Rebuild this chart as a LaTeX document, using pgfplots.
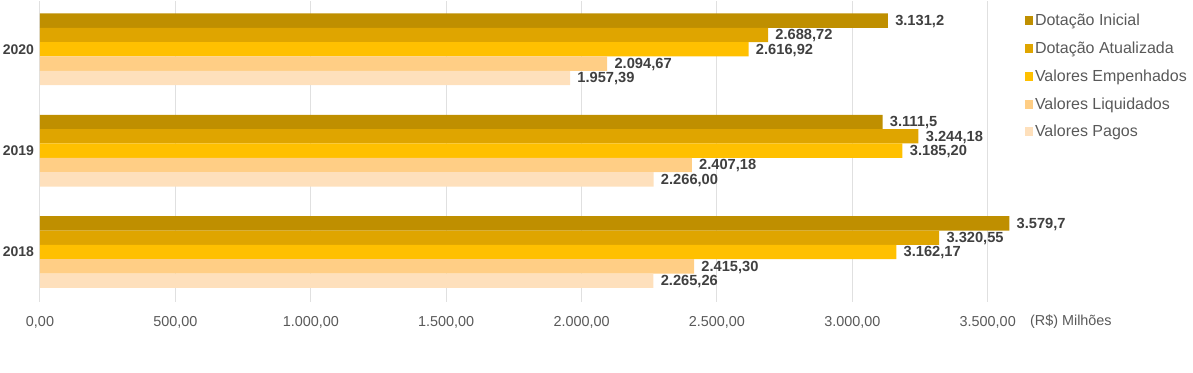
\documentclass[border=0pt]{standalone}
\usepackage{pgfplots}
\pgfplotsset{compat=1.18}
\usepackage{fontspec}
\setmainfont{Liberation Sans}
\definecolor{cIni}{HTML}{BF8F00}
\definecolor{cAtu}{HTML}{DFA500}
\definecolor{cEmp}{HTML}{FFC000}
\definecolor{cLiq}{HTML}{FFCE85}
\definecolor{cPag}{HTML}{FEE0BC}
\definecolor{txt}{HTML}{404040}
\definecolor{tickc}{HTML}{595959}
\definecolor{gridc}{HTML}{E0E0E0}
\begin{document}
\begin{tikzpicture}
\useasboundingbox (-30pt,-52.5pt) rectangle (864.75pt,226.5pt);
\begin{axis}[
  at={(0,0)}, anchor=south west,
  scale only axis,
  width=710.8pt, height=225.75pt,
  xbar, bar width=0.1416,
  xmin=0, xmax=3500,
  ymin=-0.493, ymax=2.4766,
  clip=false,
  axis line style={draw=none},
  xmajorgrids=true, ymajorgrids=false,
  major grid style={draw=gridc, line width=0.75pt},
  xtick={0,500,1000,1500,2000,2500,3000,3500},
  xticklabels={{0,00},{500,00},{1.000,00},{1.500,00},{2.000,00},{2.500,00},{3.000,00},{3.500,00}},
  xtick pos=bottom, xtick align=outside,
  major tick length=0pt,
  ytick={0,1,2}, yticklabels={2018,2019,2020},
  ytick style={draw=none},
  xticklabel style={font=\fontsize{10.8}{12}\selectfont, text=tickc, yshift=-7pt},
  yticklabel style={font=\fontsize{10.5}{12}\selectfont\bfseries, text=txt, xshift=-1pt},
  point meta=explicit symbolic,
  nodes near coords,
  every node near coord/.append style={font=\fontsize{11}{12}\selectfont\bfseries, text=txt, anchor=west, xshift=2pt, yshift=-0.7pt},
  legend style={draw=none, fill=none, at={(axis description cs:1.0351,0.967)}, anchor=north west,
    font=\fontsize{12}{14}\selectfont, text=tickc, row sep=8.8pt,
    nodes={inner sep=0pt, text height=9pt, text depth=3pt},
    /tikz/every odd column/.append style={column sep=1.3pt}},
  legend cell align=left,
  legend image code/.code={\fill[#1] (0pt,-2.6pt) rectangle (6pt,4.1pt);},
]
\addplot[draw=none, fill=cIni, bar shift=0.2832] coordinates {(3579.7,0) [3.579,7] (3111.5,1) [3.111,5] (3131.2,2) [3.131,2]};
\addplot[draw=none, fill=cAtu, bar shift=0.1416] coordinates {(3320.55,0) [3.320,55] (3244.18,1) [3.244,18] (2688.72,2) [2.688,72]};
\addplot[draw=none, fill=cEmp, bar shift=0] coordinates {(3162.17,0) [3.162,17] (3185.20,1) [3.185,20] (2616.92,2) [2.616,92]};
\addplot[draw=none, fill=cLiq, bar shift=-0.1416] coordinates {(2415.30,0) [2.415,30] (2407.18,1) [2.407,18] (2094.67,2) [2.094,67]};
\addplot[draw=none, fill=cPag, bar shift=-0.2832] coordinates {(2265.26,0) [2.265,26] (2266.00,1) [2.266,00] (1957.39,2) [1.957,39]};
\legend{Dotação Inicial, Dotação Atualizada, Valores Empenhados, Valores Liquidados, Valores Pagos}
\node[anchor=west, font=\fontsize{10.8}{12}\selectfont, text=tickc, inner sep=0pt] at (axis description cs:1.0444,-0.066) {(R\$) Milhões};
\end{axis}
\end{tikzpicture}
\end{document}
